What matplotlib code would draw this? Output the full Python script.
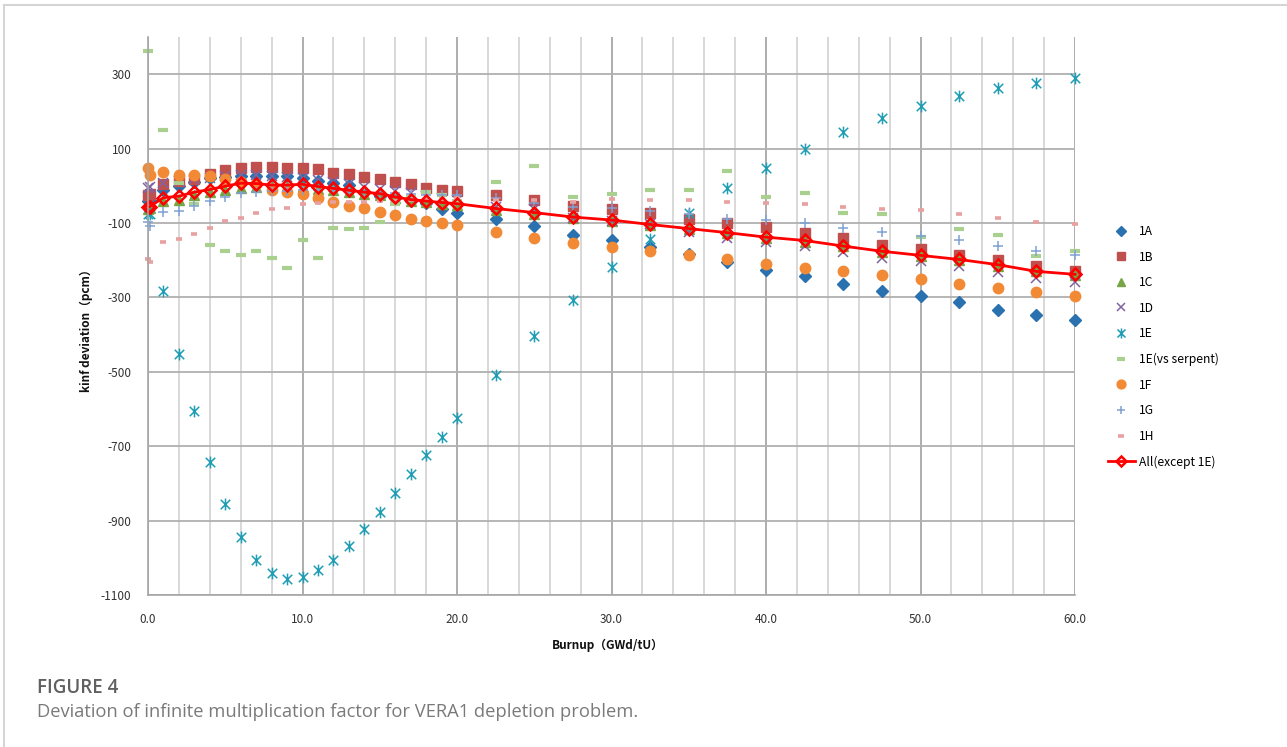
import numpy as np
import matplotlib
matplotlib.use("Agg")
import matplotlib.pyplot as plt
from matplotlib.path import Path
from matplotlib.lines import Line2D

plt.rcParams['font.family'] = ['Noto Sans CJK SC', 'DejaVu Sans']
plt.rcParams['axes.unicode_minus'] = False

# burnup steps (GWd/tU)
burnup = [0, 0.1] + list(range(1, 21)) + [22.5, 25, 27.5, 30, 32.5, 35, 37.5, 40,
                                            42.5, 45, 47.5, 50, 52.5, 55, 57.5, 60]

# kinf deviation (pcm)
dev_1a = [-40, -38, -10, 0, 10, 20, 25, 26, 26, 26, 26, 22, 13, 8, 2, -18, -28, -32, -41, -47, -63, -72,
          -89, -108, -131, -146, -164, -184, -205, -225, -243, -263, -282, -297, -313, -333, -348, -362]
dev_1b = [-25, -22, 6, 13, 19, 33, 42, 49, 50, 50, 47, 47, 44, 35, 31, 25, 17, 10, 4, -5, -10, -14,
          -25, -38, -53, -62, -72, -89, -101, -111, -126, -139, -158, -169, -187, -200, -216, -230]
dev_1c = [-63, -60, -42, -37, -25, -17, -10, -5, -3, -4, -4, -2, -8, -12, -17, -22, -26, -34, -40, -44, -48, -51,
          -64, -75, -86, -95, -106, -117, -128, -140, -150, -163, -178, -189, -200, -215, -230, -240]
dev_1d = [-5, -2, 7, 12, 17, 22, 26, 28, 28, 27, 25, 22, 15, 10, 4, -2, -8, -14, -20, -27, -33, -39,
          -58, -62, -86, -95, -104, -124, -140, -152, -162, -178, -193, -202, -216, -232, -247, -259]
dev_1e = [-77, -75, -284, -451, -605, -742, -855, -944, -1006, -1041, -1057, -1052, -1033, -1006, -968, -922,
          -877, -825, -774, -723, -675, -624,
          -508, -403, -306, -217, -144, -74, -7, 47, 98, 144, 182, 214, 241, 262, 276, 289]
dev_1e_serp = [362, np.nan, 150, 7, -50, -160, -174, -185, -174, -193, -220, -147, -193, -113, -115, -113, -97,
               -50, -30, -16, -25, -40,
               11, 52, -29, -23, -12, -12, 40, -29, -20, -74, -77, -137, -115, -131, -189, -176]
dev_1f = [47, 28, 37, 29, 29, 26, 17, 11, 4, -10, -17, -23, -34, -43, -53, -61, -70, -79, -88, -95, -101, -106,
          -124, -140, -153, -164, -176, -187, -198, -209, -220, -230, -241, -250, -263, -274, -286, -297]
dev_1g = [-98, -109, -71, -68, -53, -41, -30, -20, -18, -14, -14, -10, -12, -14, -16, -18, -19, -20, -22, -24, -25, -26,
          -34, -45, -57, -61, -68, -77, -90, -92, -99, -113, -125, -135, -147, -162, -176, -185]
dev_1h = [-198, -205, -150, -144, -129, -113, -95, -86, -74, -63, -59, -50, -47, -44, -43, -43, -41, -41, -38, -36,
          -35, -33,
          -39, -39, -43, -35, -37, -39, -43, -45, -48, -56, -62, -66, -75, -86, -97, -104]
dev_all = [-58, -56, -32, -28, -17, -10, -1, 7, 6, 2, 2, 4, -2, -7, -12, -17, -21, -30, -37, -41, -45, -48,
           -61, -72, -84, -92, -104, -115, -126, -138, -147, -162, -176, -187, -198, -212, -230, -238]

# excel style star marker: X with a vertical bar
star = Path([(-0.8, -0.8), (0.8, 0.8), (-0.8, 0.8), (0.8, -0.8), (0, -1), (0, 1)],
            [Path.MOVETO, Path.LINETO] * 3)

W, H = 1287, 747
fig = plt.figure(figsize=(W / 100, H / 100), dpi=100)
ax = fig.add_axes([148 / W, 1 - 595 / H, (1075 - 148) / W, (595 - 37) / H])

pts = dict(linestyle='none', clip_on=False)
ax.plot(burnup, dev_1a, marker='D', ms=5.7, color='#2A71B0', mec='#2A71B0', label='1A', **pts)
ax.plot(burnup, dev_1b, marker='s', ms=7.2, color='#C0504D', mec='#C0504D', label='1B', **pts)
ax.plot(burnup, dev_1c, marker='^', ms=7, color='#77A544', mec='#77A544', label='1C', **pts)
ax.plot(burnup, dev_1d, marker='x', ms=6.5, mew=1.1, color='#8064A2', label='1D', **pts)
ax.plot(burnup, dev_1e, marker=star, ms=8.5, mew=1.1, color='#1E9DB5', mfc='none', label='1E', **pts)
ax.plot(burnup, dev_1e_serp, marker='_', ms=7.5, mew=3, color='#A9D08E', label='1E(vs serpent)', **pts)
ax.plot(burnup, dev_1f, marker='o', ms=7.5, color='#F28A35', mec='#F28A35', label='1F', **pts)
ax.plot(burnup, dev_1g, marker='+', ms=7.5, mew=1.1, color='#7FA2D4', label='1G', **pts)
ax.plot(burnup, dev_1h, marker='_', ms=4.5, mew=2.6, color='#E8A0A0', label='1H', **pts)
ax.plot(burnup, dev_all, color='#FF0000', lw=2, marker='D', ms=5.7, mfc='none', mec='#FF0000', mew=1.8,
        label='All(except 1E)', clip_on=False)

ax.set_xlim(0, 60)
ax.set_ylim(-1100, 400)
ax.set_xticks(np.arange(0, 61, 10))
ax.set_xticks(np.arange(0, 61, 2), minor=True)
ax.set_yticks(np.arange(-1100, 400, 200))
ax.set_xticklabels(['%.1f' % v for v in np.arange(0, 61, 10)])
ax.tick_params(which='both', length=0)
ax.tick_params(axis='y', pad=12, labelsize=8.5, labelcolor='#333333')
ax.tick_params(axis='x', pad=13, labelsize=8.5, labelcolor='#333333')
ax.set_axisbelow(True)
ax.grid(which='minor', axis='x', color='#D2D2D2', lw=1.2)
ax.grid(which='major', axis='x', color='#A0A0A0', lw=1.2)
ax.grid(which='major', axis='y', color='#B0B0B0', lw=1.3)
for s in ['top', 'right']:
    ax.spines[s].set_visible(False)
for s in ['left', 'bottom']:
    ax.spines[s].set_color('#A6A6A6')
    ax.spines[s].set_linewidth(1.2)

fig.text(86 / W, 1 - 328 / H, 'kinf deviation（pcm）', rotation=90, ha='center', va='center',
         fontsize=8.5, fontweight='bold', color='#111111')
fig.text(608 / W, 1 - 645 / H, 'Burnup（GWd/tU）', ha='center', va='center',
         fontsize=8.5, fontweight='bold', color='#111111')

ax.legend(loc='upper left', bbox_to_anchor=(1108 / W, 1 - 225 / H), bbox_transform=fig.transFigure,
          frameon=False, fontsize=8.7, handlelength=2.2, handletextpad=0.4, labelspacing=1.04,
          borderpad=0, borderaxespad=0, markerscale=0.85)

fig.text(37 / W, 1 - 688 / H, 'FIGURE 4', ha='left', va='center', fontsize=13.5,
         fontweight='semibold', color='#606060', family=['Open Sans', 'DejaVu Sans'])
fig.text(37 / W, 1 - 712 / H, 'Deviation of infinite multiplication factor for VERA1 depletion problem.',
         ha='left', va='center', fontsize=13.2, color='#7A7A7A', family=['Open Sans', 'DejaVu Sans'])

# thin frame around the figure panel
fig.add_artist(Line2D([4 / W, 1], [1 - 5 / H, 1 - 5 / H], color='#D5D5D5', lw=1.5))
fig.add_artist(Line2D([4 / W, 4 / W], [0, 1 - 5 / H], color='#D5D5D5', lw=1.5))

fig.savefig('out.png', dpi=100)
